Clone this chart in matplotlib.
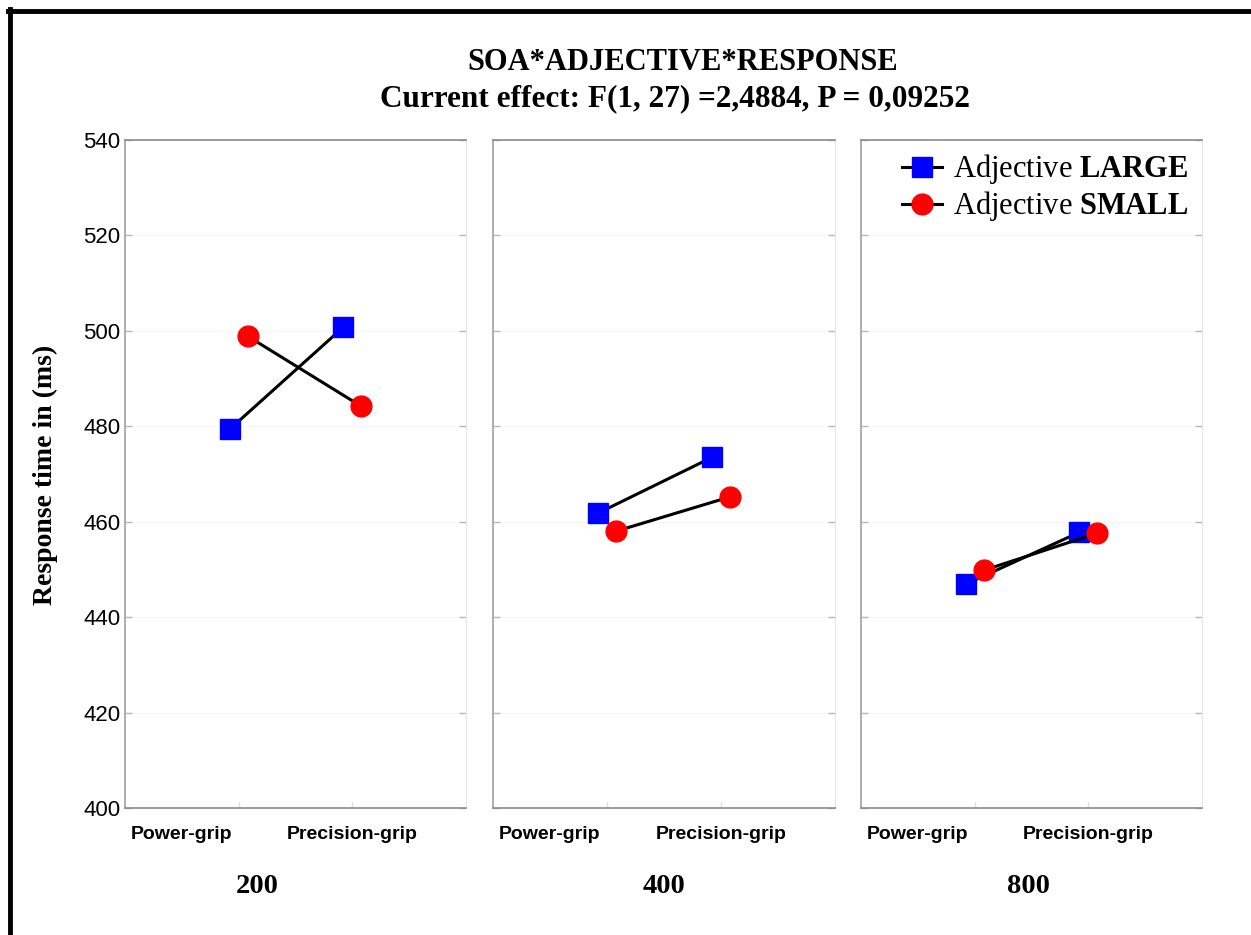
import numpy as np
import matplotlib
matplotlib.use('Agg')
import matplotlib.pyplot as plt
from matplotlib.lines import Line2D
from matplotlib.transforms import blended_transform_factory

plt.rcParams['font.family'] = 'Liberation Sans'
plt.rcParams['mathtext.fontset'] = 'custom'
plt.rcParams['mathtext.rm'] = 'Liberation Serif'
plt.rcParams['mathtext.bf'] = 'Liberation Serif:bold'

# data
soa = ['200', '400', '800']
grips = ['Power-grip', 'Precision-grip']
large = [[479.4, 500.8], [461.8, 473.5], [446.9, 457.8]]
small = [[498.9, 484.2], [458.0, 465.2], [449.8, 457.6]]
yticks = [400, 420, 440, 460, 480, 500, 520, 540]

W, H = 1251, 935
fig = plt.figure(figsize=(W / 100, H / 100), dpi=100)

# panel boxes in pixels (left, right)
panels = [(125, 466), (493, 835), (861, 1202)]
top, bottom = 140, 808
soa_x = [0.387, 0.5, 0.49]
label_x = [-0.5, 1.0]
off = 0.078

serif = 'Liberation Serif'
axes = []
for i, (l, r) in enumerate(panels):
    ax = fig.add_axes([l / W, 1 - bottom / H, (r - l) / W, (bottom - top) / H])
    axes.append(ax)
    x = np.arange(len(grips))
    ax.plot(x - off, large[i], color='black', lw=2.2, marker='s', ms=14,
            mfc='#0000ff', mec='#0000ff', zorder=3)
    ax.plot(x + off, small[i], color='black', lw=2.2, marker='o', ms=15,
            mfc='#ff0000', mec='#ff0000', zorder=3)
    ax.set_xlim(-1, 2)
    ax.set_ylim(400, 540)
    ax.set_yticks(yticks)
    ax.set_xticks(x)
    ax.set_xticklabels([])
    for y in yticks[1:-1]:
        ax.axhline(y, color='#f5f5f5', lw=0.8, zorder=0)
    ax.tick_params(axis='both', direction='in', length=5, color='#b8b8b8',
                   width=1, right=True, labelsize=16)
    ax.tick_params(axis='x', length=4, color='#e0e0e0')
    if i > 0:
        ax.set_yticklabels([])
    for s in ['top', 'bottom', 'left']:
        ax.spines[s].set_color('#8a8a8a')
        ax.spines[s].set_linewidth(1.2)
    ax.spines['left'].set_color('#a0a0a0')
    ax.spines['right'].set_color('#e6e6e6')
    tr = blended_transform_factory(ax.transData, ax.transAxes)
    for lx, g in zip(label_x, grips):
        ax.text(lx, -0.04, g, transform=tr, ha='center', va='center',
                fontsize=14, fontweight='bold')
    ax.text(soa_x[i], -0.118, soa[i], transform=ax.transAxes, ha='center',
            va='center', fontsize=20.5, fontweight='bold', family=serif)

handles = [Line2D([], [], color='black', lw=2.2, marker='s', ms=14,
                  mfc='#0000ff', mec='#0000ff'),
           Line2D([], [], color='black', lw=2.2, marker='o', ms=15,
                  mfc='#ff0000', mec='#ff0000')]
axes[2].legend(handles, [r'Adjective $\mathbf{LARGE}$', r'Adjective $\mathbf{SMALL}$'],
               loc='upper right', frameon=False, prop={'family': serif, 'size': 22},
               handlelength=1.3, handletextpad=0.35, labelspacing=0.1,
               borderaxespad=0.0, bbox_to_anchor=(0.995, 1.0))

fig.text(683 / W, 1 - 63 / H, 'SOA*ADJECTIVE*RESPONSE', ha='center', va='center',
         fontsize=22, fontweight='bold', family=serif)
fig.text(675 / W, 1 - 99 / H, 'Current effect: F(1, 27) =2,4884, P = 0,09252',
         ha='center', va='center', fontsize=22.5, fontweight='bold', family=serif)
fig.text(45 / W, 1 - 475 / H, 'Response time in (ms)', rotation=90, ha='center',
         va='center', fontsize=20, fontweight='bold', family=serif)

# border lines (top and left)
fig.add_artist(Line2D([9.5 / W, 9.5 / W], [0, 1 - 9 / H], transform=fig.transFigure,
                      color='black', lw=3.5))
fig.add_artist(Line2D([8 / W, 1], [1 - 11 / H, 1 - 11 / H], transform=fig.transFigure,
                      color='black', lw=3.5))

fig.savefig('out.png', dpi=100)
